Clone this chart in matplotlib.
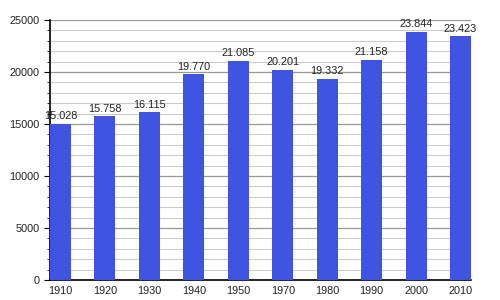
import matplotlib.pyplot as plt
import numpy as np
from matplotlib.ticker import MultipleLocator

plt.rcParams["font.family"] = ["Liberation Sans", "DejaVu Sans"]

years = ["1910", "1920", "1930", "1940", "1950", "1970", "1980", "1990", "2000", "2010"]
population = [15028, 15758, 16115, 19770, 21085, 20201, 19332, 21158, 23844, 23423]
labels = ["15.028", "15.758", "16.115", "19.770", "21.085",
          "20.201", "19.332", "21.158", "23.844", "23.423"]

fig = plt.figure(figsize=(5, 3), dpi=100)
ax = fig.add_axes([0.1, 0.0667, 0.842, 0.8666])

x = np.arange(len(years))
ax.bar(x, population, width=0.47, color="#3f55df", zorder=3)

for xi, v, lab in zip(x, population, labels):
    ax.text(xi, v + 250, lab, ha="center", va="bottom", fontsize=7.8, color="#222222")

ax.set_xlim(-0.235, len(years) - 1 + 0.235)
ax.set_ylim(0, 25000)
ax.set_xticks(x)
ax.set_xticklabels(years, fontsize=7.8, color="#222222")
ax.yaxis.set_major_locator(MultipleLocator(5000))
ax.yaxis.set_minor_locator(MultipleLocator(1000))
ax.tick_params(axis="y", which="major", labelsize=7.8, labelcolor="#222222", length=4)
ax.tick_params(axis="y", which="minor", length=2)
ax.tick_params(axis="x", length=0, pad=4)

ax.grid(axis="y", which="major", color="#999999", linewidth=0.9, zorder=0)
ax.grid(axis="y", which="minor", color="#cccccc", linewidth=0.8, zorder=0)

for s in ["top", "right"]:
    ax.spines[s].set_visible(False)
ax.spines["left"].set_linewidth(1.2)
ax.spines["bottom"].set_linewidth(1.2)

fig.savefig("out.png", dpi=100)
